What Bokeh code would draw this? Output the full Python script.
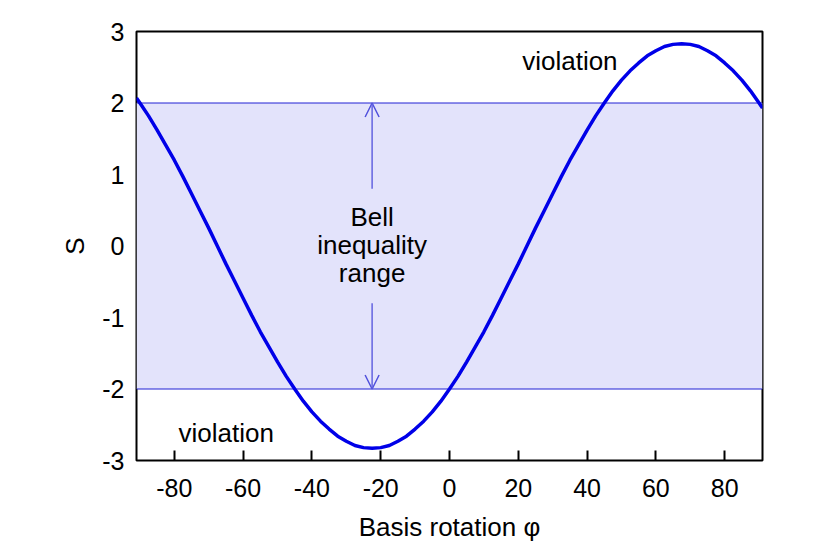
from bokeh.plotting import figure
from bokeh.models import Range1d, Arrow, OpenHead, FixedTicker, CustomJSTickFormatter
from bokeh.core.properties import value
from bokeh.embed import file_html
from bokeh.resources import INLINE

# data
phi = [-91, -90, -87.5, -85, -82.5, -80, -77.5, -75, -72.5, -70, -67.5, -65, -62.5,
       -60, -57.5, -55, -52.5, -50, -47.5, -45, -42.5, -40, -37.5, -35, -32.5, -30,
       -27.5, -25, -22.5, -20, -17.5, -15, -12.5, -10, -7.5, -5, -2.5, 0, 2.5, 5,
       7.5, 10, 12.5, 15, 17.5, 20, 22.5, 25, 27.5, 30, 32.5, 35, 37.5, 40, 42.5,
       45, 47.5, 50, 52.5, 55, 57.5, 60, 62.5, 65, 67.5, 70, 72.5, 75, 77.5, 80,
       82.5, 85, 87.5, 90, 91]
S = [2.07, 2.00, 1.82, 1.62, 1.41, 1.20, 0.97, 0.73, 0.49, 0.25, 0.00, -0.25, -0.49,
     -0.73, -0.97, -1.20, -1.41, -1.62, -1.82, -2.00, -2.17, -2.32, -2.45, -2.56,
     -2.66, -2.73, -2.79, -2.82, -2.83, -2.82, -2.79, -2.73, -2.66, -2.56, -2.45,
     -2.32, -2.17, -2.00, -1.82, -1.62, -1.41, -1.20, -0.97, -0.73, -0.49, -0.25,
     0.00, 0.25, 0.49, 0.73, 0.97, 1.20, 1.41, 1.62, 1.82, 2.00, 2.17, 2.32, 2.45,
     2.56, 2.66, 2.73, 2.79, 2.82, 2.83, 2.82, 2.79, 2.73, 2.66, 2.56, 2.45, 2.32,
     2.17, 2.00, 1.93]
bell_lower = -2
bell_upper = 2
x_min, x_max = -91, 91
y_min, y_max = -3, 3
x_ticks = [-80, -60, -40, -20, 0, 20, 40, 60, 80]
y_ticks = [-3, -2, -1, 0, 1, 2, 3]
arrow_x = -22.5
arrow_start = 0.8
range_labels = ["Bell", "inequality", "range"]
range_label_y = [0.40, 0.01, -0.38]
violation_x = [35.0, -64.9]
violation_y = [2.59, -2.61]
violation_text = ["violation", "violation"]

FONT = "Liberation Sans"
FS = "25px"
FS_T = "26px"

p = figure(frame_width=626, frame_height=429, output_backend="svg", toolbar_location=None,
           x_range=Range1d(x_min, x_max), y_range=Range1d(y_min, y_max),
           min_border_left=136, min_border_right=50, min_border_top=31,
           min_border_bottom=81)
p.grid.visible = False
p.background_fill_color = "white"
p.border_fill_color = "white"
p.outline_line_color = "black"
p.outline_line_width = 2

# shaded Bell range
p.varea(x=[x_min, x_max], y1=[bell_lower, bell_lower], y2=[bell_upper, bell_upper],
        fill_color="#e3e3fb")
p.line([x_min, x_max], [bell_upper, bell_upper], line_color="#2020d4", line_width=1)
p.line([x_min, x_max], [bell_lower, bell_lower], line_color="#2020d4", line_width=1)

# arrows
p.add_layout(Arrow(end=OpenHead(size=14, line_color="#5050dc", line_width=1.5),
                   x_start=arrow_x, y_start=arrow_start, x_end=arrow_x, y_end=bell_upper,
                   line_color="#6464e0", line_width=1.5))
p.add_layout(Arrow(end=OpenHead(size=14, line_color="#5050dc", line_width=1.5),
                   x_start=arrow_x, y_start=-arrow_start, x_end=arrow_x, y_end=bell_lower,
                   line_color="#6464e0", line_width=1.5))

# curve
p.line(phi, S, line_color="#0000e8", line_width=3.5)

# labels
p.text(x=[arrow_x] * 3, y=range_label_y, text=range_labels, text_align="center",
       text_baseline="middle", text_font=value(FONT), text_font_size=FS_T,
       text_color="black")
p.text(x=violation_x, y=violation_y, text=violation_text, text_align="center",
       text_baseline="middle", text_font=value(FONT), text_font_size=FS_T,
       text_color="black")

# axes
fmt = "return tick.toString();"
p.xaxis.ticker = FixedTicker(ticks=x_ticks)
p.yaxis.ticker = FixedTicker(ticks=y_ticks)
p.xaxis.formatter = CustomJSTickFormatter(code=fmt)
p.yaxis.formatter = CustomJSTickFormatter(code=fmt)
p.xaxis.axis_label = "Basis rotation φ"
p.yaxis.axis_label = "S"
for ax in (p.xaxis, p.yaxis):
    ax.axis_line_color = None
    ax.minor_tick_line_color = None
    ax.major_label_text_font = FONT
    ax.major_label_text_font_size = FS
    ax.major_label_text_color = "black"
    ax.axis_label_text_font = FONT
    ax.axis_label_text_font_size = FS_T
    ax.axis_label_text_font_style = "normal"
    ax.axis_label_text_color = "black"
    ax.major_tick_out = 0
p.xaxis.major_tick_in = 10
p.xaxis.major_tick_line_width = 2
p.xaxis.major_tick_line_color = "black"
p.xaxis.major_label_standoff = 18
p.xaxis.axis_label_standoff = 12
p.yaxis.major_tick_in = 0
p.yaxis.major_tick_line_color = None
p.yaxis.major_label_standoff = 12
p.yaxis.axis_label_standoff = 9

open("out.html", "w").write(file_html(p, INLINE))
